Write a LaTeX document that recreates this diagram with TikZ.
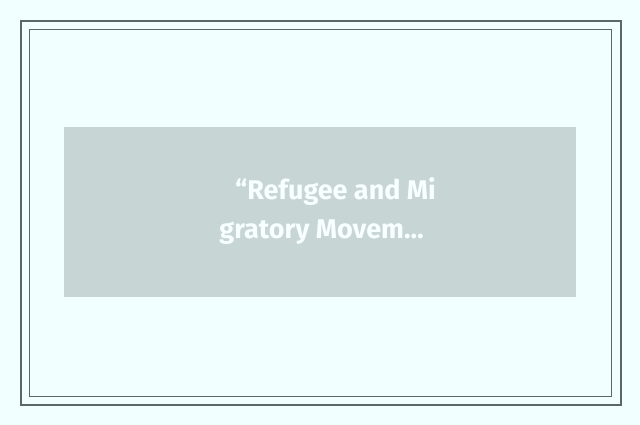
\documentclass[tikz,border=0pt]{standalone}
\usepackage{fontspec}
\setmainfont{Fira Sans}
\definecolor{bgc}{HTML}{F2FFFF}
\definecolor{framec}{HTML}{5A6968}
\definecolor{boxc}{HTML}{C8D5D5}
\definecolor{txtc}{HTML}{F7FFFF}
\tikzset{
  frameouter/.style={draw=framec,line width=2pt},
  frameinner/.style={draw=framec,line width=1pt},
  titlebox/.style={fill=boxc,draw=none},
  titletext/.style={text=txtc,font=\fontsize{27}{39}\selectfont\bfseries,align=center,inner sep=0pt}
}
\begin{document}
\begin{tikzpicture}[x=1pt,y=-1pt]
\fill[bgc] (0,0) rectangle (640,425);
\useasboundingbox (0,0) rectangle (640,425);
\draw[frameouter] (21,21) rectangle (621,405);
\draw[frameinner] (29.5,29.5) rectangle (611,396);
\node[titlebox,minimum width=512pt,minimum height=170pt,anchor=north west] (box) at (64,127) {};
\node[titletext] (title) at (321.5,211) {\hspace*{28pt}“Refugee and Mi\\gratory Movem…};
\end{tikzpicture}
\end{document}
